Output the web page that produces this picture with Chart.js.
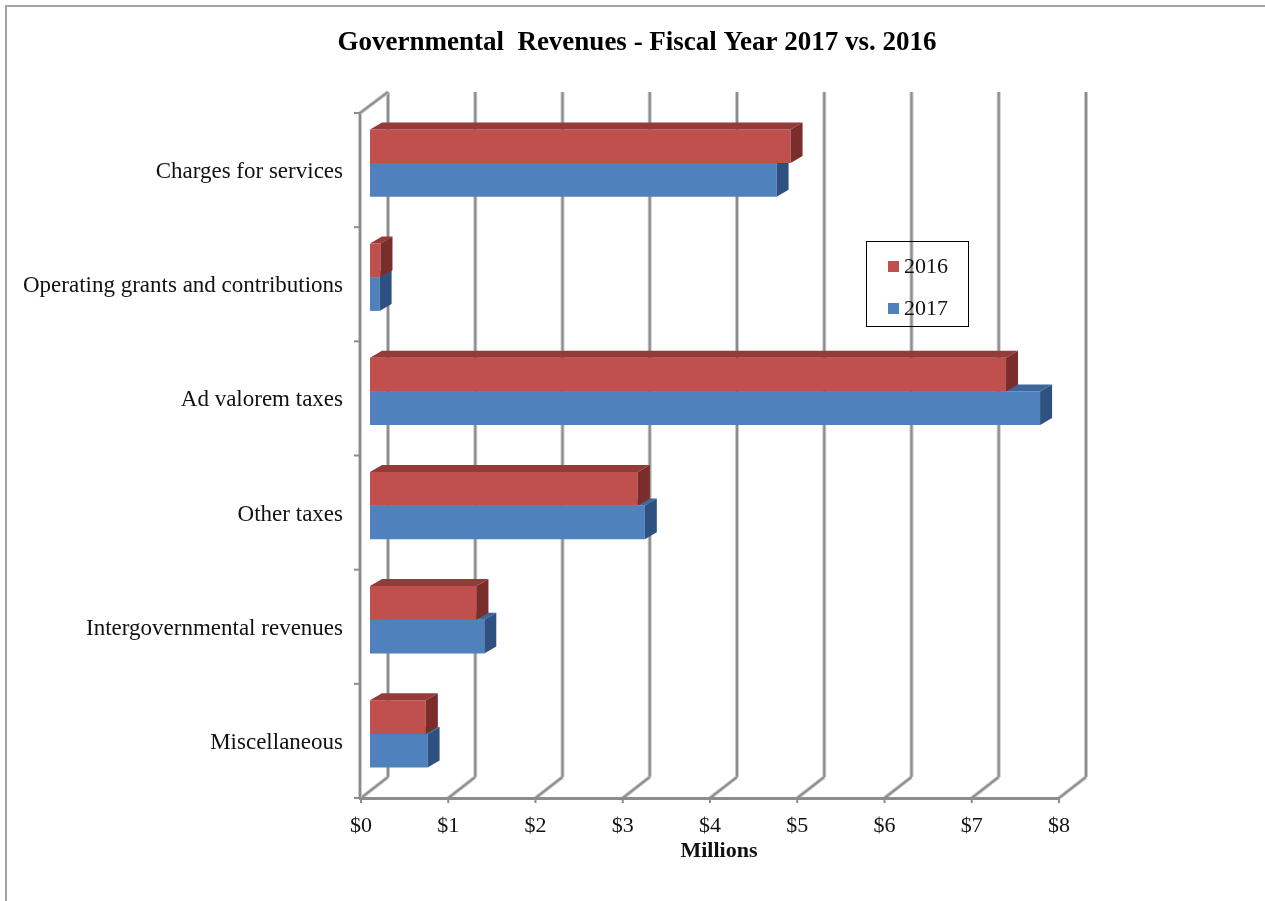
<!DOCTYPE html>
<html>
<head>
<meta charset="utf-8">
<title>Governmental Revenues</title>
<script src="https://cdn.jsdelivr.net/npm/chart.js@4/dist/chart.umd.min.js"></script>
<style>
  html, body { margin: 0; padding: 0; background: #fff; }
  #box { width: 1265px; height: 901px; }
</style>
</head>
<body>
<div id="box"><canvas id="chart" width="1265" height="901"></canvas></div>
<script>
// data (millions of dollars)
const categories = ['Charges for services', 'Operating grants and contributions', 'Ad valorem taxes',
                    'Other taxes', 'Intergovernmental revenues', 'Miscellaneous'];
const fy2016 = [4.82, 0.12, 7.29, 3.07, 1.22, 0.64];
const fy2017 = [4.66, 0.11, 7.68, 3.15, 1.31, 0.66];
const xTickValues = [0, 1, 2, 3, 4, 5, 6, 7, 8];

const serif = '"Liberation Serif", "Times New Roman", serif';

// 3d look: bars sit a bit behind the front floor edge, wall further back
const FRONT = { dx: -9, dy: 7 };
const BACK = { dx: 18, dy: -14 };
const DEPTH = { dx: 12, dy: 7 };
const faceColors = [
  { top: '#943a38', side: '#7b2d2b' },   // 2016
  { top: '#3d679b', side: '#2f5182' }    // 2017
];

function gridLine(ctx, x1, y1, x2, y2) {
  ctx.beginPath();
  ctx.moveTo(x1, y1);
  ctx.lineTo(x2, y2);
  ctx.strokeStyle = '#c9c9c9';
  ctx.lineWidth = 4;
  ctx.stroke();
  ctx.strokeStyle = '#8c8c8c';
  ctx.lineWidth = 2;
  ctx.stroke();
}

const wall3d = {
  id: 'wall3d',
  beforeDraw(chart) {
    const ctx = chart.ctx;
    ctx.save();
    ctx.fillStyle = '#a3a3a3';
    ctx.fillRect(5, 5, 2, 896);
    ctx.fillRect(5, 5, 1260, 2);
    ctx.fillStyle = '#000';
    ctx.font = 'bold 27px ' + serif;
    ctx.textAlign = 'center';
    ctx.textBaseline = 'middle';
    ctx.fillText('Governmental  Revenues - Fiscal Year 2017 vs. 2016', 637, 43);
    ctx.restore();
  },
  beforeDatasetsDraw(chart) {
    const { ctx, chartArea: a, scales: { x } } = chart;
    ctx.save();
    // back wall lines and floor lines
    xTickValues.forEach(v => {
      const px = x.getPixelForValue(v);
      gridLine(ctx, px + BACK.dx, a.top + BACK.dy, px + BACK.dx, a.bottom + BACK.dy);
      gridLine(ctx, px + FRONT.dx, a.bottom + FRONT.dy, px + BACK.dx, a.bottom + BACK.dy);
    });
    // left wall
    const lx = a.left + FRONT.dx - 1;
    gridLine(ctx, lx, a.top + FRONT.dy, lx, a.bottom + FRONT.dy);
    gridLine(ctx, lx, a.top + FRONT.dy, a.left + BACK.dx, a.top + BACK.dy);
    // front floor edge
    const fy = a.bottom + FRONT.dy;
    const xEnd = x.getPixelForValue(8) + FRONT.dx;
    ctx.fillStyle = '#8c8c8c';
    ctx.fillRect(lx - 1, fy - 1, xEnd - lx + 2, 3);
    xTickValues.forEach(v => {
      ctx.fillRect(x.getPixelForValue(v) + FRONT.dx - 1, fy, 2, 5);
    });
    const band = (a.bottom - a.top) / categories.length;
    for (let i = 0; i <= categories.length; i++) {
      ctx.fillRect(lx - 6, a.top + FRONT.dy + i * band - 1, 6, 2);
    }
    ctx.restore();
  },
  afterDatasetDraw(chart, args) {
    const ctx = chart.ctx;
    const c = faceColors[args.index];
    ctx.save();
    args.meta.data.forEach(el => {
      const p = el.getProps(['x', 'y', 'base', 'height'], true);
      const t = p.y - p.height / 2, b = p.y + p.height / 2;
      const l = p.base, r = p.x;
      ctx.fillStyle = c.top;
      ctx.beginPath();
      ctx.moveTo(l, t);
      ctx.lineTo(l + DEPTH.dx, t - DEPTH.dy);
      ctx.lineTo(r + DEPTH.dx, t - DEPTH.dy);
      ctx.lineTo(r, t);
      ctx.closePath();
      ctx.fill();
      ctx.fillStyle = c.side;
      ctx.beginPath();
      ctx.moveTo(r, t);
      ctx.lineTo(r + DEPTH.dx, t - DEPTH.dy);
      ctx.lineTo(r + DEPTH.dx, b - DEPTH.dy);
      ctx.lineTo(r, b);
      ctx.closePath();
      ctx.fill();
    });
    ctx.restore();
  },
  afterDraw(chart) {
    const ctx = chart.ctx;
    ctx.save();
    ctx.strokeStyle = '#000';
    ctx.lineWidth = 1;
    ctx.strokeRect(866.5, 241.5, 102, 85);
    ctx.font = '22px ' + serif;
    ctx.textBaseline = 'middle';
    chart.data.datasets.forEach((ds, i) => {
      const cy = 266 + i * 42;
      ctx.fillStyle = ds.backgroundColor;
      ctx.fillRect(888, cy - 5, 11, 11);
      ctx.fillStyle = '#111';
      ctx.fillText(ds.label, 904, cy + 1);
    });
    ctx.restore();
  }
};

new Chart(document.getElementById('chart'), {
  type: 'bar',
  data: {
    labels: categories,
    datasets: [
      { label: '2016', data: fy2016, backgroundColor: '#c0504d' },
      { label: '2017', data: fy2017, backgroundColor: '#4f81bd' }
    ]
  },
  options: {
    indexAxis: 'y',
    responsive: false,
    animation: false,
    layout: { padding: { left: 0, right: 197, top: 106, bottom: 36 } },
    datasets: { bar: { categoryPercentage: 0.59, barPercentage: 1.0 } },
    plugins: {
      legend: { display: false },
      title: { display: false },
      tooltip: { enabled: false }
    },
    scales: {
      x: {
        min: 0,
        max: 8,
        afterFit: s => { s.height = 74; },
        grid: { display: false, drawTicks: false },
        border: { display: false },
        ticks: {
          stepSize: 1,
          padding: 22,
          labelOffset: FRONT.dx,
          color: '#111',
          font: { family: serif, size: 22 },
          callback: v => '$' + v
        },
        title: {
          display: true,
          text: 'Millions',
          color: '#111',
          padding: 0,
          font: { family: serif, size: 22, weight: 'bold' }
        }
      },
      y: {
        afterFit: s => { s.width = 370; },
        grid: { display: false, drawTicks: false },
        border: { display: false },
        ticks: {
          padding: 27,
          labelOffset: 9,
          color: '#111',
          font: { family: serif, size: 23 }
        }
      }
    }
  },
  plugins: [wall3d]
});
</script>
</body>
</html>
